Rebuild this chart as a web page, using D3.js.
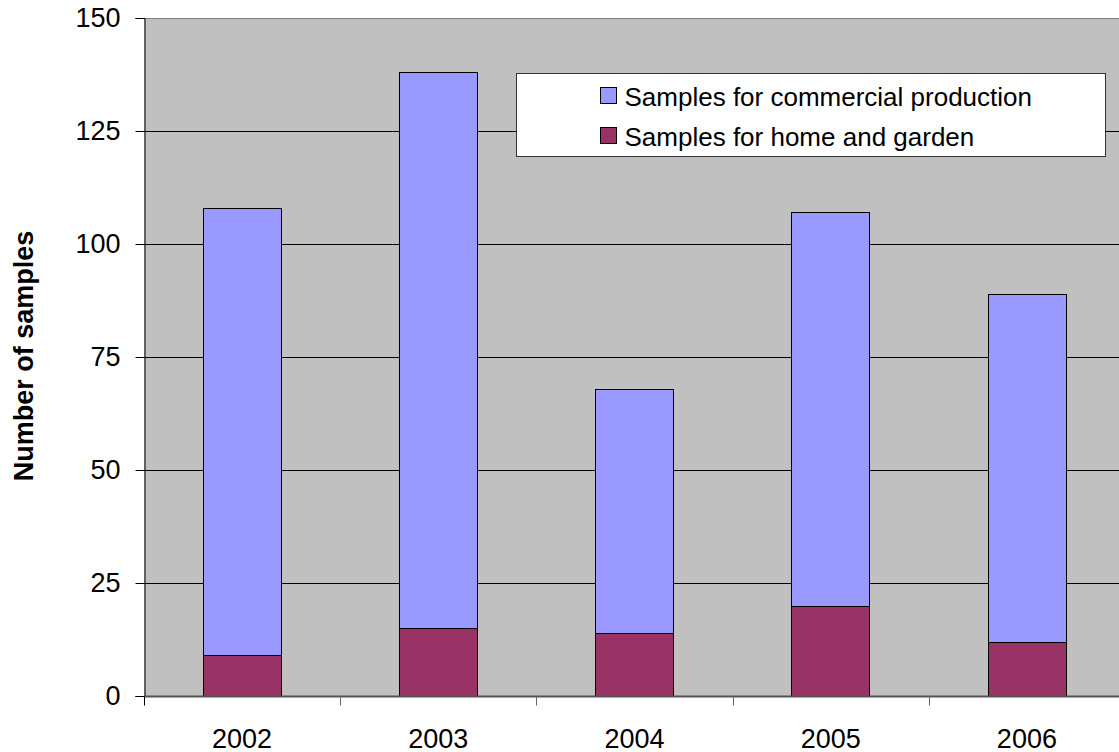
<!DOCTYPE html>
<html>
<head>
<meta charset="utf-8">
<script src="https://cdn.jsdelivr.net/npm/d3@7"></script>
<style>
  body { margin: 0; background: #fff; }
  svg { display: block; font-family: Arial, "Liberation Sans", sans-serif; }
</style>
</head>
<body>
<div id="chart"></div>
<script>
// data
var years = ['2002', '2003', '2004', '2005', '2006'];
var home = [9, 15, 14, 20, 12];
var commercial = [99, 123, 54, 87, 77];
var yTicks = [0, 25, 50, 75, 100, 125, 150];
var seriesNames = ['Samples for commercial production', 'Samples for home and garden'];
var colors = ['#9999ff', '#993366'];

var svgWidth = 1119, svgHeight = 752;
var margin = { top: 18, left: 144, bottom: 56 };
var plotW = 981;   // plot runs off the right edge like the original
var plotH = svgHeight - margin.top - margin.bottom;

var svg = d3.select('#chart').append('svg')
  .attr('width', svgWidth)
  .attr('height', svgHeight);

var g = svg.append('g')
  .attr('transform', `translate(${margin.left}, ${margin.top})`);

var x = d3.scaleBand().domain(years).range([0, plotW]).paddingInner(0.6).paddingOuter(0.3);
var xTickScale = d3.scaleBand().domain(years).range([0, plotW]);
var y = d3.scaleLinear().domain([0, 150]).range([plotH, 0]);

// plot background
g.append('rect')
  .attr('width', plotW).attr('height', plotH)
  .attr('fill', '#c0c0c0');
g.append('line')
  .attr('x1', 0).attr('x2', plotW).attr('y1', 0.5).attr('y2', 0.5)
  .attr('stroke', '#808080');

// gridlines
g.selectAll('.grid').data(yTicks.slice(1, -1)).enter().append('line')
  .attr('x1', 0).attr('x2', plotW)
  .attr('y1', d => Math.round(y(d)) + 0.5).attr('y2', d => Math.round(y(d)) + 0.5)
  .attr('stroke', '#000').attr('stroke-width', 1);

// stacked bars
var rows = years.map((yr, i) => ({ year: yr, home: home[i], commercial: commercial[i] }));
var stack = d3.stack().keys(['commercial', 'home']).order(d3.stackOrderReverse)(rows);

g.selectAll('.series').data(stack).enter().append('g')
  .attr('fill', (d, i) => colors[i])
  .selectAll('rect').data(d => d).enter().append('rect')
  .attr('x', d => Math.round(x(d.data.year)) + 0.5)
  .attr('width', Math.round(x.bandwidth()))
  .attr('y', d => Math.round(y(d[1])) + 0.5)
  .attr('height', d => Math.round(y(d[0])) - Math.round(y(d[1])))
  .attr('stroke', '#000').attr('stroke-width', 1);

// y axis
var yAxis = d3.axisLeft(y).tickValues(yTicks).tickSize(9).tickPadding(15);
var ya = g.append('g').attr('transform', 'translate(0.5,0)').call(yAxis);
ya.attr('font-size', null).attr('font-family', null);
ya.select('.domain').attr('stroke', '#000');
ya.selectAll('.tick line').attr('stroke', '#000');
ya.selectAll('text').style('font-size', '27px').attr('fill', '#000');

// x axis
var xa = g.append('g').attr('transform', `translate(0, ${plotH + 0.5})`);
xa.append('line').attr('x1', 0).attr('x2', plotW).attr('stroke', '#555').attr('stroke-width', 2);
xa.selectAll('.xt').data(years.concat(['end'])).enter().append('line')
  .attr('x1', (d, i) => Math.round(i * xTickScale.step()) + 0.5)
  .attr('x2', (d, i) => Math.round(i * xTickScale.step()) + 0.5)
  .attr('y1', 0).attr('y2', 9)
  .attr('stroke', (d, i) => i === 0 ? '#000' : '#666');
xa.selectAll('.xl').data(years).enter().append('text')
  .attr('x', d => xTickScale(d) + xTickScale.bandwidth() / 2)
  .attr('y', 51)
  .attr('text-anchor', 'middle')
  .style('font-size', '27px')
  .text(d => d);

// y label
svg.append('text')
  .attr('transform', 'translate(33, 356) rotate(-90)')
  .attr('text-anchor', 'middle')
  .style('font-size', '27px')
  .attr('font-weight', 'bold')
  .text('Number of samples');

// legend
var leg = svg.append('g').attr('transform', 'translate(516.5, 73.5)');
leg.append('rect').attr('width', 589).attr('height', 83)
  .attr('fill', '#fff').attr('stroke', '#333').attr('stroke-width', 1);
seriesNames.forEach(function(name, i) {
  leg.append('rect')
    .attr('x', 84).attr('y', 14 + i * 40)
    .attr('width', 16).attr('height', 16)
    .attr('fill', colors[i]).attr('stroke', '#000');
  leg.append('text')
    .attr('x', 108).attr('y', 32 + i * 40)
    .style('font-size', '26px')
    .text(name);
});
</script>
</body>
</html>
